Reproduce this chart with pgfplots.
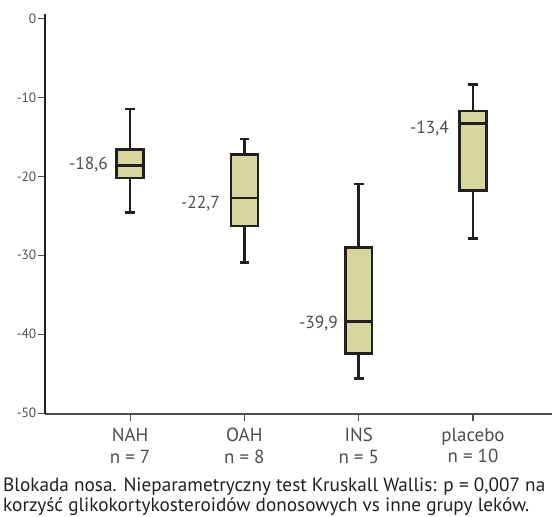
\documentclass[border=0pt]{standalone}
\usepackage{fontspec}
\setmainfont{PT Sans}
\usepackage{pgfplots}
\pgfplotsset{compat=1.18}
\usepgfplotslibrary{statistics}
\definecolor{boxfill}{RGB}{214,215,158}
\definecolor{dark}{RGB}{35,31,32}
\definecolor{lbl}{RGB}{77,77,77}
\begin{document}
\begin{tikzpicture}
\begin{axis}[
  at={(45bp,-414bp)}, anchor=south west,
  scale only axis, width=507bp, height=400bp,
  xmin=0.256, xmax=4.691, ymin=-50.1, ymax=0.55,
  axis x line*=bottom, axis y line*=left,
  x axis line style={-, line width=1.4bp, draw=dark!80},
  y axis line style={-, line width=1.4bp, draw=dark},
  tick align=outside, major tick length=7bp,
  tick style={line width=1.1bp, draw=dark!80},
  xtick={1,2,3,4},
  xticklabels={{NAH\\n = 7},{OAH\\n = 8},{INS\\n = 5},{placebo\\n = 10}},
  xticklabel style={align=center, font=\fontsize{19}{21.6}\selectfont, text=lbl, inner sep=2bp, yshift=-5bp},
  ytick={0,-10,-20,-30,-40,-50},
  yticklabels={0,-10,-20,-30,-40,-50},
  yticklabel style={font=\fontsize{13.5}{15}\selectfont, text=lbl, inner sep=1.5bp},
  boxplot/draw direction=y,
  clip=false,
]
\addplot[boxplot prepared={draw position=1, lower whisker=-24.56, lower quartile=-20.2, median=-18.61, upper quartile=-16.58, upper whisker=-11.48, box extend=0.235, whisker extend=0.085}, draw=dark, fill=boxfill, line width=2.6bp, solid] coordinates {};
\addplot[boxplot prepared={draw position=2, lower whisker=-30.9, lower quartile=-26.3, median=-22.75, upper quartile=-17.22, upper whisker=-15.28, box extend=0.235, whisker extend=0.085}, draw=dark, fill=boxfill, line width=2.6bp, solid] coordinates {};
\addplot[boxplot prepared={draw position=3, lower whisker=-45.6, lower quartile=-42.46, median=-38.4, upper quartile=-29.04, upper whisker=-21.0, box extend=0.235, whisker extend=0.085}, draw=dark, fill=boxfill, line width=2.6bp, solid] coordinates {};
\addplot[boxplot prepared={draw position=4, lower whisker=-27.85, lower quartile=-21.8, median=-13.29, upper quartile=-11.73, upper whisker=-8.4, box extend=0.235, whisker extend=0.085}, draw=dark, fill=boxfill, line width=2.6bp, solid] coordinates {};
\node[anchor=base east, inner sep=0pt, font=\fontsize{17.5}{18}\selectfont, text=lbl] at (axis cs:0.8075,-19.2) {-18,6};
\node[anchor=base east, inner sep=0pt, font=\fontsize{17.5}{18}\selectfont, text=lbl] at (axis cs:1.787,-24.05) {-22,7};
\node[anchor=base east, inner sep=0pt, font=\fontsize{17.5}{18}\selectfont, text=lbl] at (axis cs:2.819,-39.24) {-39,9};
\node[anchor=base east, inner sep=0pt, font=\fontsize{17.5}{18}\selectfont, text=lbl] at (axis cs:3.79,-14.56) {-13,4};
\end{axis}
\node[anchor=base west, inner sep=0pt, font=\fontsize{19.3}{22}\selectfont, text=dark] at (3bp,-491.7bp) {Blokada nosa. Nieparametryczny test Kruskall Wallis: p = 0,007 na};
\node[anchor=base west, inner sep=0pt, font=\fontsize{19.3}{22}\selectfont, text=dark] at (3bp,-511.7bp) {korzyść glikokortykosteroidów donosowych vs inne grupy leków.};
\pgfresetboundingbox
\useasboundingbox (0,0) rectangle (552bp,-517bp);
\end{tikzpicture}
\end{document}
